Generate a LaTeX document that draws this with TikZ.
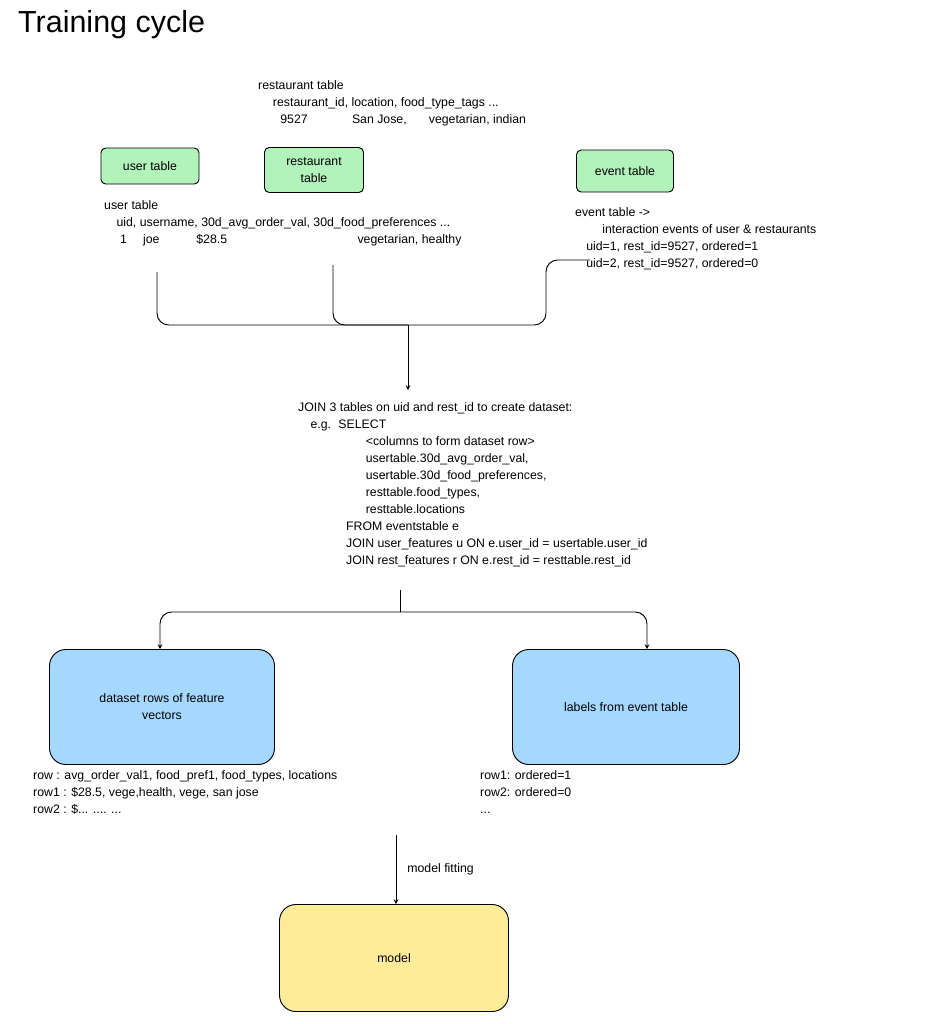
\documentclass[tikz,border=0pt]{standalone}
\usepackage{fontspec}
\setmainfont{Liberation Sans}
\usetikzlibrary{arrows,calc,positioning}
\definecolor{tablegreen}{RGB}{178,242,187}
\definecolor{rowblue}{RGB}{165,216,255}
\definecolor{modelyellow}{RGB}{255,236,153}
\newcommand{\txtsize}{\fontsize{10.5}{14.5}\selectfont}
\tikzset{
    tablesty/.style={draw,thick,fill=tablegreen,rounded corners=4pt,align=center,font=\txtsize,inner sep=0pt},
    rowsty/.style={draw,thick,fill=rowblue,rounded corners=14pt,align=center,font=\txtsize,inner sep=0pt},
    modelsty/.style={draw,thick,fill=modelyellow,rounded corners=14pt,font=\txtsize,inner sep=0pt},
    notesty/.style={anchor=north west,align=left,font=\txtsize,inner sep=0pt},
    linksty/.style={thick,rounded corners=10pt},
}
\begin{document}
\begin{tikzpicture}[x=0.03cm,y=-0.03cm,>=stealth]
  \useasboundingbox[fill=white] (0,0) rectangle (933,1024);
  \node[anchor=north west,inner sep=0pt,font=\fontsize{26}{30}\selectfont] (title) at (18,10) {Training cycle};

  % tables
  \node[tablesty,minimum width=2.94cm,minimum height=1.08cm] (user) at (150,166) {user table};
  \node[tablesty,minimum width=2.97cm,minimum height=1.35cm] (rest) at (314,170) {restaurant\\table};
  \node[tablesty,minimum width=2.91cm,minimum height=1.26cm] (event) at (625,171) {event table};

  \node[notesty] (restnote) at (258,80) {restaurant table\\
    \hspace*{1.2em}restaurant\_id, location, food\_type\_tags ...\\
    \hspace*{1.8em}9527\hspace*{3.6em}San Jose,\hspace*{1.8em}vegetarian, indian};
  \node[notesty] (usernote) at (104,200) {user table\\
    \hspace*{1em}uid, username, 30d\_avg\_order\_val, 30d\_food\_preferences ...\\
    \hspace*{1.3em}1\hspace*{1.3em}joe\hspace*{3em}\$28.5\hspace*{10.6em}vegetarian, healthy};
  \node[notesty] (eventnote) at (575,207) {event table ->\\
    \hspace*{2.2em}interaction events of user \& restaurants\\
    \hspace*{0.9em}uid=1, rest\_id=9527, ordered=1\\
    \hspace*{0.9em}uid=2, rest\_id=9527, ordered=0};

  % join
  \coordinate (merge) at (408,325);
  \node[notesty] (join) at (298,402) {JOIN 3 tables on uid and rest\_id to create dataset:\\
    \hspace*{1em}e.g.\hspace*{0.6em}SELECT\\
    \hspace*{5.5em}<columns to form dataset row>\\
    \hspace*{5.5em}usertable.30d\_avg\_order\_val,\\
    \hspace*{5.5em}usertable.30d\_food\_preferences,\\
    \hspace*{5.5em}resttable.food\_types,\\
    \hspace*{5.5em}resttable.locations\\
    \hspace*{3.9em}FROM eventstable e\\
    \hspace*{3.9em}JOIN user\_features u ON e.user\_id = usertable.user\_id\\
    \hspace*{3.9em}JOIN rest\_features r ON e.rest\_id = resttable.rest\_id};
  \draw[linksty] (157,272) -- (157,325) -- (merge);
  \draw[linksty] (333,265) -- (333,325) -- (merge);
  \draw[linksty] (590,260) -- (546,260) -- (546,325) -- (merge);
  \draw[thick,->] (merge) -- (408,390);

  % outputs
  \node[rowsty,minimum width=6.75cm,minimum height=3.45cm] (rows) at (162,707) {dataset rows of feature\\vectors};
  \node[rowsty,minimum width=6.81cm,minimum height=3.45cm] (labels) at (626,707) {labels from event table};
  \coordinate (split) at (400,612);
  \draw[thick] (400,590) -- (split);
  \draw[linksty,->] (split) -- (160,612) -- (rows.north -| 160,0);
  \draw[linksty,->] (split) -- (647,612) -- (labels.north -| 647,0);

  \node[notesty] (rownote) at (33,770) {row : avg\_order\_val1, food\_pref1, food\_types, locations\\
    row1 : \$28.5, vege,health, vege, san jose\\
    row2 : \$... .... ...};
  \node[notesty] (labelnote) at (480,770) {row1: ordered=1\\row2: ordered=0\\...};

  % model
  \node[modelsty,minimum width=6.87cm,minimum height=3.21cm] (model) at (394,958) {model};
  \draw[thick,->] (396,835) -- (model.north -| 396,0) node[midway,right=6pt,font=\txtsize] {model fitting};
\end{tikzpicture}
\end{document}
